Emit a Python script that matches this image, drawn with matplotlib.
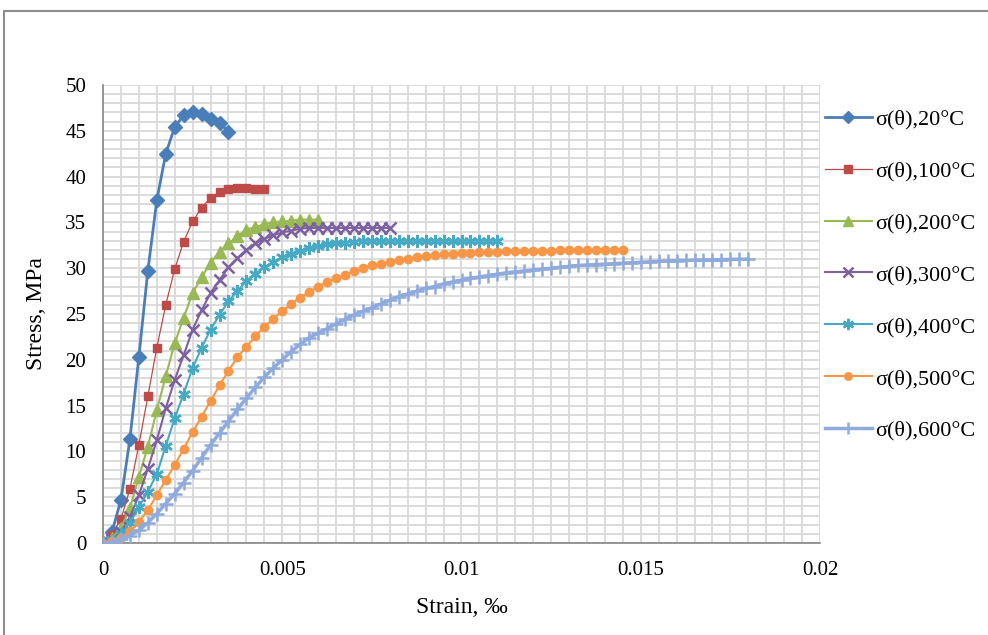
import numpy as np
import matplotlib.pyplot as plt
from matplotlib.ticker import MultipleLocator, FuncFormatter
from matplotlib.patches import Rectangle

plt.rcParams['font.family'] = ['Liberation Serif', 'DejaVu Serif']

# strain step between computed points
step = 0.00025

labels = ['σ(θ),20°C', 'σ(θ),100°C', 'σ(θ),200°C', 'σ(θ),300°C',
          'σ(θ),400°C', 'σ(θ),500°C', 'σ(θ),600°C']

s20 = [0, 1.2, 4.7, 11.3, 20.3, 29.7, 37.4, 42.5, 45.4, 46.7, 47.0, 46.8,
       46.3, 45.9, 44.9]

s100 = [0, 0.9, 2.6, 5.9, 10.7, 16.0, 21.3, 26.0, 29.9, 32.9, 35.1, 36.6,
        37.7, 38.3, 38.7, 38.8, 38.8, 38.7, 38.6]

s200 = [0, 0.5, 1.6, 3.8, 7.2, 10.5, 14.5, 18.2, 21.8, 24.6, 27.3, 29.0,
        30.6, 31.8, 32.7, 33.5, 34.2, 34.5, 34.8, 35.0, 35.1, 35.2, 35.3,
        35.3, 35.3]

s300 = [0, 0.3, 1.2, 2.8, 5.2, 8.1, 11.2, 14.7, 17.8, 20.5, 23.3, 25.4,
        27.3, 28.7, 30.1, 31.1, 32.0, 32.7, 33.2, 33.6, 33.9, 34.1, 34.3,
        34.4, 34.4, 34.4, 34.4, 34.4, 34.4, 34.4, 34.4, 34.4, 34.4]

s400 = [0, 0.3, 1.0, 2.2, 3.9, 5.6, 7.5, 10.6, 13.6, 16.3, 19.1, 21.3,
        23.3, 24.9, 26.4, 27.5, 28.6, 29.4, 30.1, 30.7, 31.2, 31.6, 31.9,
        32.2, 32.4, 32.6, 32.7, 32.8, 32.9, 33.0, 33.0, 33.0, 33.0, 33.0,
        33.0, 33.0, 33.0, 33.0, 33.0, 33.0, 33.0, 33.0, 33.0, 33.0, 33.0]

s500 = [0, 0.2, 0.6, 1.3, 2.3, 3.6, 5.2, 6.9, 8.5, 10.3, 12.1, 13.8, 15.5,
        17.2, 18.8, 20.3, 21.4, 22.6, 23.6, 24.5, 25.3, 26.1, 26.8, 27.4,
        28.0, 28.5, 28.9, 29.3, 29.7, 30.0, 30.3, 30.5, 30.7, 30.9, 31.05,
        31.2, 31.3, 31.4, 31.5, 31.6, 31.65, 31.7, 31.75, 31.8, 31.82,
        31.85, 31.87, 31.89, 31.9, 31.92, 31.93, 31.94, 31.95, 31.96,
        31.97, 31.98, 31.99, 32.0, 32.0]

s600 = [0, 0.1, 0.4, 0.8, 1.4, 2.2, 3.2, 4.3, 5.4, 6.6, 7.9, 9.3, 10.7,
        12.0, 13.3, 14.6, 15.8, 17.0, 18.1, 19.1, 20.0, 20.9, 21.7, 22.4,
        22.9, 23.4, 23.9, 24.4, 24.9, 25.3, 25.7, 26.1, 26.5, 26.9, 27.2,
        27.5, 27.8, 28.0, 28.3, 28.5, 28.7, 28.9, 29.05, 29.2, 29.35, 29.5,
        29.6, 29.7, 29.8, 29.9, 30.0, 30.1, 30.2, 30.3, 30.35, 30.4, 30.45,
        30.5, 30.55, 30.6, 30.65, 30.7, 30.75, 30.8, 30.82, 30.85, 30.88,
        30.9, 30.92, 30.94, 30.96, 30.98, 31.0]

series = [s20, s100, s200, s300, s400, s500, s600]
colors = ['#4a7ebb', '#be4b48', '#98b954', '#7d60a0', '#46aac5', '#f79646', '#8faadc']
markers = ['D', 's', '^', 'x', (6, 2, 0), 'o', '+']
msizes = [7, 6, 8, 8, 9, 6, 10]
lwidths = [2, 0.9, 1.5, 1.5, 1.5, 1.5, 2.5]

fig = plt.figure(figsize=(9.88, 6.35), dpi=100)
ax = fig.add_axes([103 / 988, 92 / 635, 717 / 988, 458 / 635])

for s, c, m, ms, lw, lab in zip(series, colors, markers, msizes, lwidths, labels):
    x = np.arange(len(s)) * step
    ax.plot(x, s, color=c, lw=lw, marker=m, ms=ms, mew=1.8 if m in ('x', '+', (6, 2, 0)) else 1,
            mfc=c, mec=c, label=lab, zorder=3)

ax.set_xlim(0, 0.02)
ax.set_ylim(0, 50)
ax.xaxis.set_major_locator(MultipleLocator(0.005))
ax.xaxis.set_minor_locator(MultipleLocator(0.0005))
ax.yaxis.set_major_locator(MultipleLocator(5))
ax.yaxis.set_minor_locator(MultipleLocator(1))
ax.xaxis.set_major_formatter(FuncFormatter(lambda v, p: '0' if v == 0 else f'{v:g}'))

ax.grid(which='both', color='#d9d9d9', lw=1.3)
ax.set_axisbelow(True)
for side in ('top', 'right'):
    ax.spines[side].set_visible(False)
for side in ('left', 'bottom'):
    ax.spines[side].set_color('#868686')
    ax.spines[side].set_linewidth(1.2)
ax.tick_params(which='both', length=0, labelsize=15, pad=12)
ax.tick_params(axis='x', pad=13)

ax.set_ylabel('Stress, MPa', fontsize=17, labelpad=13)
ax.set_xlabel('Strain, ‰', fontsize=17, labelpad=12)

fig.legend(loc='upper left', bbox_to_anchor=(825 / 988, 1 - 109 / 635),
           frameon=False, fontsize=16, handlelength=2.1, handletextpad=0.15,
           labelspacing=1.41, borderpad=0, borderaxespad=0, markerscale=0.9)

# chart border
fig.patches.append(Rectangle((4 / 988, -0.1), 1.2, 1 - 11 / 635 + 0.1,
                             transform=fig.transFigure, fill=False,
                             ec='#8c8c8c', lw=1.5))

fig.savefig('out.png', dpi=100)
